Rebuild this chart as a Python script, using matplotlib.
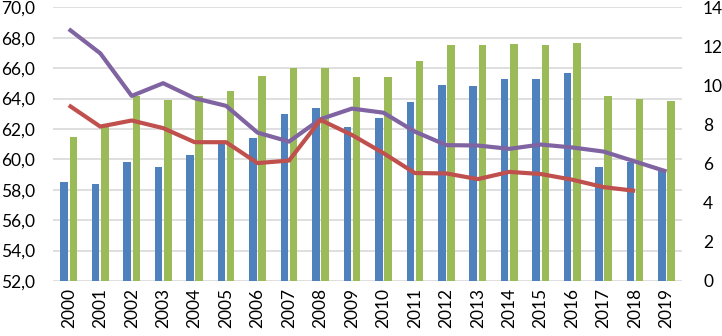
import matplotlib.pyplot as plt
import numpy as np

years = [str(y) for y in range(2000, 2020)]

# bars, left axis
blue_vals = [58.5, 58.4, 59.8, 59.5, 60.3, 61.0, 61.4, 63.0, 63.4, 62.1,
             62.7, 63.8, 64.9, 64.8, 65.3, 65.3, 65.7, 59.5, 59.8, 59.2]
green_vals = [61.5, 62.2, 64.2, 63.9, 64.2, 64.5, 65.5, 66.0, 66.0, 65.4,
              65.4, 66.5, 67.5, 67.5, 67.6, 67.55, 67.65, 64.2, 64.0, 63.86]

# lines, right axis
purple_vals = [12.89, 11.65, 9.47, 10.12, 9.35, 8.96, 7.59, 7.13, 8.28, 8.82,
               8.61, 7.64, 6.95, 6.93, 6.76, 6.98, 6.83, 6.62, 6.11, 5.60]
red_vals = [8.99, 7.90, 8.21, 7.82, 7.10, 7.10, 6.03, 6.16, 8.24, 7.47,
            6.54, 5.52, 5.50, 5.21, 5.58, 5.47, 5.18, 4.80, 4.61]

left_ticks = np.arange(52, 70.1, 2)
right_ticks = np.arange(0, 14.1, 2)

plt.rcParams['font.family'] = ['Lato', 'DejaVu Sans']

fig = plt.figure(figsize=(7.22, 3.36), dpi=100)
ax = fig.add_axes([0.0735, 0.164, 0.8715, 0.814])

x = np.arange(len(years))
w = 0.24
ax.bar(x - 0.145, np.array(blue_vals) - 52, bottom=52, width=w, color='#4F81BD', zorder=2)
ax.bar(x + 0.145, np.array(green_vals) - 52, bottom=52, width=w, color='#9BBB59', zorder=2)

ax.set_ylim(52, 70)
ax.set_xlim(-0.5, len(years) - 0.5)
ax.set_yticks(left_ticks)
ax.set_yticklabels([f'{v:.1f}'.replace('.', ',') for v in left_ticks], fontsize=12.5)
ax.set_xticks(x)
ax.set_xticklabels(years, rotation=90, fontsize=12.5)
ax.yaxis.grid(True, color='#d9d9d9', linewidth=1.2, zorder=0)
ax.set_axisbelow(True)
ax.tick_params(axis='y', length=0, pad=13)
ax.tick_params(axis='x', length=0, pad=5)
for s in ax.spines.values():
    s.set_visible(False)

ax2 = ax.twinx()
ax2.plot(x, purple_vals, color='#8064A2', linewidth=3, solid_capstyle='butt')
ax2.plot(x[:len(red_vals)], red_vals, color='#C0504D', linewidth=3, solid_capstyle='butt')
ax2.set_ylim(0, 14)
ax2.set_yticks(right_ticks)
ax2.set_yticklabels([str(int(v)) for v in right_ticks], fontsize=12.5)
ax2.tick_params(length=0, pad=15)
for s in ax2.spines.values():
    s.set_visible(False)

fig.savefig('out.png', dpi=100)
